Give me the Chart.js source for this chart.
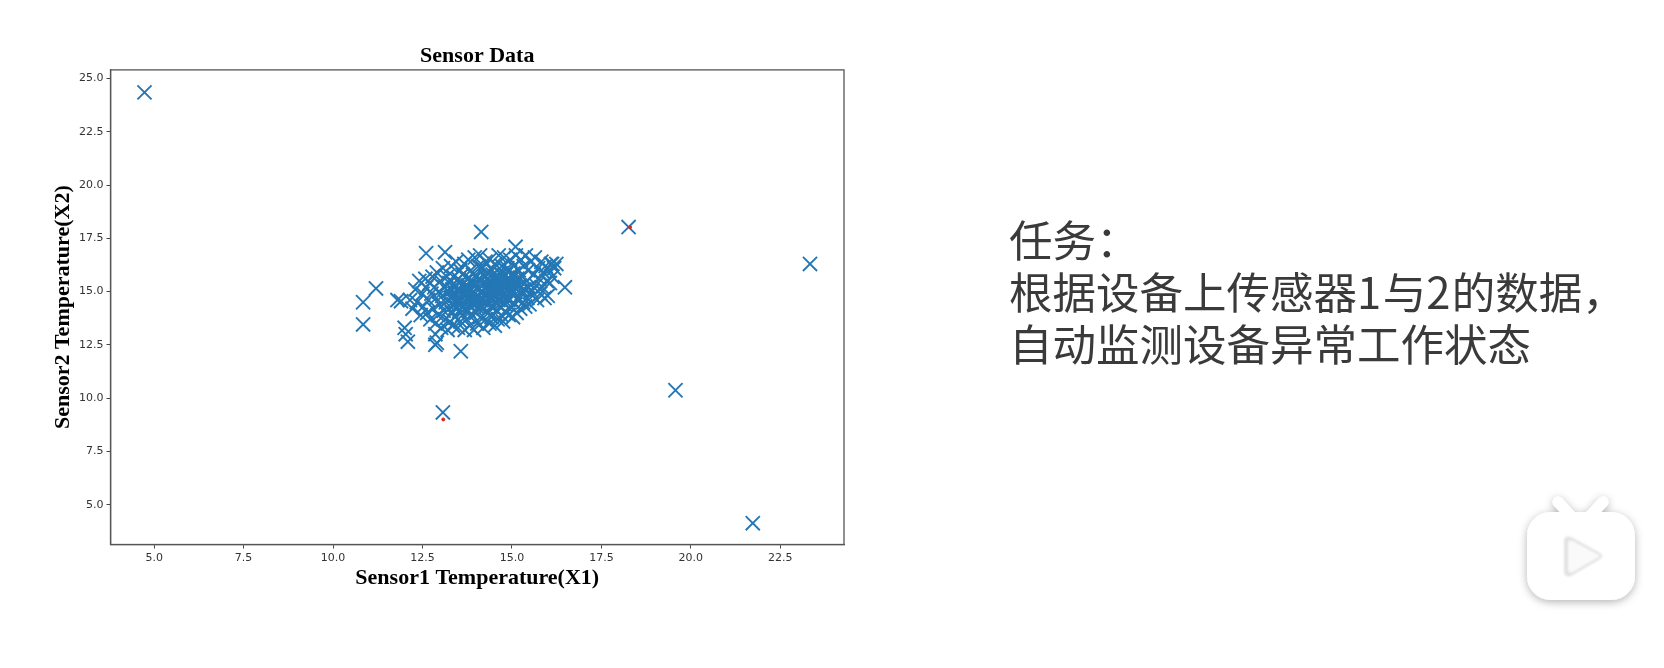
<!DOCTYPE html>
<html>
<head>
<meta charset="utf-8">
<script src="https://cdn.jsdelivr.net/npm/chart.js@4"></script>
<style>
    body { margin: 0; background: #fff; width: 1664px; height: 668px; overflow: hidden; position: relative; }
    canvas { position: absolute; left: 0; top: 0; }
    .task { position: absolute; left: 1009px; top: 213px; font: 400 43.5px/52px "Noto Sans CJK SC"; color: #3a3a3a; white-space: nowrap; }
    .task span { letter-spacing: 1.5px; }
    .logo { position: absolute; left: 0; top: 0; }
</style>
</head>
<body>
<canvas id="myChart" width="1664" height="668"></canvas>
<div class="task">任务：<br>根据设备上传感器<span>1</span>与<span>2</span>的数据，<br>自动监测设备异常工作状态</div>
<svg class="logo" width="1664" height="668">
    <defs>
        <filter id="shade" x="-30%" y="-30%" width="160%" height="160%">
            <feDropShadow dx="0" dy="2" stdDeviation="4" flood-color="#000" flood-opacity="0.3"/>
        </filter>
        <filter id="soft"><feGaussianBlur stdDeviation="1.2"/></filter>
    </defs>
    <g filter="url(#shade)" fill="#fff">
        <path d="M1558 502 L1571 516 M1603 502 L1590 516" stroke="#fff" stroke-width="11" stroke-linecap="round"/>
        <rect x="1527" y="512" width="108" height="88" rx="24"/>
    </g>
    <path d="M1571 537 L1600 553 Q1604 556 1600 559 L1571 576 Q1564 578 1564 571 L1564 542 Q1564 535 1571 537 Z" fill="#e2e2e2" filter="url(#soft)"/>
    <path d="M1573 541 L1599 555 Q1601 556 1599 557 L1573 572 Q1568 574 1568 569 L1568 544 Q1568 539 1573 541 Z" fill="#fafafa" filter="url(#soft)"/>
</svg>
<script>
const xTicks = [5, 7.5, 10, 12.5, 15, 17.5, 20, 22.5];
const yTicks = [5, 7.5, 10, 12.5, 15, 17.5, 20, 22.5, 25];

const redX = [18.3, 13.08];
const redY = [18.02, 9.0];

const outlierX = [4.73, 18.26, 23.33, 19.57, 21.73, 13.07, 10.84, 10.84, 11.2, 11.8, 11.9, 12.0, 12.03, 12.09, 12.86, 12.9, 12.86, 13.57, 12.6, 13.13, 14.14, 15.1, 16.48, 16.12];
const outlierY = [24.35, 18.03, 16.3, 10.37, 4.13, 9.33, 14.5, 13.46, 15.15, 14.6, 14.55, 13.3, 13.0, 12.65, 12.5, 12.6, 13.0, 12.2, 16.8, 16.85, 17.8, 17.1, 15.2, 16.3];

// the dense cloud, read column by column from left to right
const cloudX = [
    12.15, 12.22, 12.3, 12.34, 12.41, 12.45, 12.5, 12.52, 12.58, 12.6, 12.63, 12.66, 12.7, 12.72, 12.75, 12.78,
    12.8, 12.83, 12.86, 12.88, 12.9, 12.93, 12.96, 12.98, 13.0, 13.02, 13.05, 13.07, 13.09, 13.11, 13.13, 13.15, 13.18, 13.2, 13.22, 13.24,
    13.25, 13.27, 13.28, 13.3, 13.32, 13.33, 13.35, 13.36, 13.38, 13.4, 13.41, 13.43, 13.44, 13.46, 13.47, 13.49, 13.5, 13.52, 13.53, 13.55, 13.56, 13.58, 13.59, 13.61, 13.62, 13.64, 13.65, 13.67, 13.68, 13.7,
    13.72, 13.73, 13.75, 13.76, 13.78, 13.79, 13.81, 13.82, 13.84, 13.85, 13.87, 13.88, 13.9, 13.91, 13.93, 13.94, 13.96, 13.97, 13.99, 14.0, 14.02, 14.03, 14.05, 14.06, 14.08, 14.09, 14.11, 14.12, 14.14, 14.15, 14.17, 14.18, 14.2, 14.21, 14.23, 14.24, 14.26, 14.27, 14.29, 14.3,
    14.32, 14.34, 14.35, 14.37, 14.38, 14.4, 14.42, 14.43, 14.45, 14.47, 14.48, 14.5, 14.52, 14.53, 14.55, 14.57, 14.58, 14.6, 14.62, 14.63, 14.65, 14.67, 14.68, 14.7, 14.72, 14.73, 14.75, 14.77, 14.78, 14.8, 14.82, 14.84, 14.85, 14.87, 14.89,
    14.91, 14.93, 14.95, 14.97, 14.99, 15.01, 15.03, 15.05, 15.07, 15.09, 15.11, 15.13, 15.15, 15.17, 15.19, 15.21, 15.23, 15.25, 15.27, 15.29, 15.31, 15.33, 15.35, 15.37, 15.39, 15.41, 15.43, 15.45, 15.47, 15.49,
    15.52, 15.55, 15.58, 15.61, 15.64, 15.67, 15.7, 15.73, 15.76, 15.79, 15.82, 15.85, 15.88, 15.91, 15.94, 15.97, 16.0, 16.03, 16.06, 16.09, 16.13, 16.18, 16.24
];
const cloudY = [
    14.6, 14.2, 15.1, 14.5, 15.5, 13.9, 14.9, 14.3, 15.6, 15.2, 14.0, 14.6, 15.4, 13.7, 14.9, 15.7,
    14.2, 15.2, 13.5, 14.7, 15.9, 13.9, 15.0, 14.4, 15.5, 13.3, 14.8, 16.1, 14.1, 15.2, 13.7, 14.5, 15.7, 13.2, 15.0, 14.2,
    15.4, 13.6, 14.7, 16.2, 14.0, 15.1, 13.4, 15.7, 14.4, 14.9, 13.8, 15.3, 16.4, 14.2, 14.7, 13.3, 15.6, 15.0, 14.1, 16.0, 13.6, 14.6, 15.3, 13.9, 15.8, 14.3, 14.9, 16.3, 13.2, 15.2,
    14.5, 13.7, 15.6, 14.9, 16.5, 14.1, 15.2, 13.4, 14.7, 16.0, 15.4, 13.9, 14.4, 15.8, 15.0, 13.2, 16.6, 14.6, 15.3, 14.0, 15.7, 13.5, 14.8, 16.2, 15.1, 14.3, 16.7, 13.8, 15.5, 14.6, 15.0, 16.1, 13.3, 14.2, 15.7, 14.8, 16.4, 13.7, 15.2, 14.5,
    15.9, 14.0, 15.3, 13.5, 16.5, 14.7, 15.1, 13.8, 16.0, 14.3, 15.6, 14.9, 13.4, 16.3, 15.2, 14.1, 15.7, 13.7, 14.6, 16.7, 15.0, 14.3, 15.5, 13.9, 16.2, 14.8, 13.6, 15.3, 16.6, 14.4, 15.8, 14.0, 15.1, 16.1, 14.6,
    13.9, 15.4, 16.5, 14.3, 15.8, 14.9, 13.8, 16.2, 15.2, 14.4, 16.7, 14.0, 15.6, 14.7, 16.0, 15.3, 14.2, 16.5, 14.9, 15.7, 14.5, 16.2, 15.1, 14.3, 16.7, 15.5, 14.7, 16.0, 15.2, 14.4,
    16.4, 15.0, 14.8, 15.8, 16.6, 15.3, 14.6, 16.1, 15.6, 14.9, 16.4, 15.2, 15.9, 14.7, 16.2, 15.5, 14.8, 16.0, 15.4, 16.3, 15.7, 16.1, 16.3
];

// extra marks where the middle of the cloud reads as solid blue
const coreX = [
    13.31, 13.37, 13.42, 13.48, 13.51, 13.57, 13.63, 13.66, 13.71, 13.74, 13.77, 13.83, 13.86, 13.89, 13.92, 13.95, 13.98, 14.01, 14.04, 14.07, 14.1, 14.13, 14.16, 14.19, 14.22, 14.25, 14.28, 14.31, 14.33, 14.36, 14.39, 14.41, 14.44, 14.46, 14.49, 14.51, 14.54, 14.56, 14.59, 14.61, 14.64, 14.66, 14.69, 14.71, 14.74, 14.76, 14.79, 14.81, 14.83, 14.86, 14.88, 14.92, 14.96, 15.0, 15.04, 15.08, 15.12, 15.16, 15.22, 15.28
];
const coreY = [
    14.75, 15.35, 14.25, 15.05, 14.55, 15.45, 14.85, 14.15, 15.25, 14.65, 15.05, 14.35, 15.55, 14.95, 14.45, 15.35, 14.75, 15.15, 14.25, 15.6, 14.6, 15.0, 14.35, 15.4, 14.85, 15.75, 14.5, 15.2, 14.7, 15.5, 14.95, 14.3, 15.3, 15.8, 14.6, 15.1, 14.85, 15.55, 14.45, 15.25, 15.9, 14.7, 15.4, 15.05, 14.55, 15.75, 15.15, 14.8, 15.5, 15.95, 15.3, 14.65, 15.55, 15.05, 15.85, 14.85, 15.4, 14.6, 15.65, 15.05
];

const outsideBox = {
    id: 'outsideBox',
    afterDraw (chart) {
        const { ctx, chartArea } = chart;
        ctx.save();
        ctx.strokeStyle = '#555';
        ctx.lineWidth = 1.3;
        ctx.strokeRect(chartArea.left, chartArea.top, chartArea.width, chartArea.height);
        ctx.restore();
    }
};

function toPoints (xs, ys) {
    return xs.map((x, i) => ({ x: x, y: ys[i] }));
}

const tickFont = { family: 'DejaVu Sans', size: 11 };
const labelFont = { family: 'Liberation Serif', size: 22, weight: 'bold' };

const config = {
    type: 'scatter',
    data: {
        datasets: [{
            data: toPoints(redX, redY),
            pointStyle: 'circle',
            pointRadius: 1.5,
            backgroundColor: '#d62728',
            borderColor: '#d62728'
        }, {
            data: toPoints(outlierX.concat(cloudX, coreX), outlierY.concat(cloudY, coreY)),
            pointStyle: 'crossRot',
            pointRadius: 10,
            borderWidth: 1.9,
            borderColor: '#2477b5',
            backgroundColor: '#2477b5'
        }]
    },
    options: {
        responsive: false,
        animation: false,
        layout: { padding: { left: 0, top: 0, right: 820, bottom: 0 } },
        plugins: {
            legend: { display: false },
            tooltip: { enabled: false },
            title: {
                display: true,
                text: 'Sensor Data',
                color: '#000',
                fullSize: false,
                font: { family: 'Liberation Serif', size: 22, weight: 'bold', lineHeight: 1.2 },
                padding: { top: 43.5, bottom: 0 }
            }
        },
        scales: {
            x: {
                type: 'linear',
                min: 3.78,
                max: 24.28,
                afterFit: scale => { scale.height = 123.5; },
                afterBuildTicks: scale => { scale.ticks = xTicks.map(v => ({ value: v })); },
                grid: { drawOnChartArea: false, tickLength: 4, tickColor: '#444' },
                border: { color: '#555', width: 1.3 },
                ticks: { color: '#333', font: tickFont, padding: 3, maxRotation: 0, callback: v => v.toFixed(1) },
                title: { display: true, text: 'Sensor1 Temperature(X1)', color: '#000', font: labelFont, padding: { top: 0, bottom: 76 } }
            },
            y: {
                type: 'linear',
                min: 3.13,
                max: 25.405,
                afterFit: scale => { scale.width = 110.5; },
                afterBuildTicks: scale => { scale.ticks = yTicks.map(v => ({ value: v })); },
                grid: { drawOnChartArea: false, tickLength: 4, tickColor: '#444' },
                border: { color: '#555', width: 1.3 },
                ticks: { color: '#333', font: tickFont, padding: 3, callback: v => v.toFixed(1) },
                title: { display: true, text: 'Sensor2 Temperature(X2)', color: '#000', font: labelFont, padding: { top: 50, bottom: 0 } }
            }
        }
    },
    plugins: [outsideBox]
};

new Chart(document.getElementById('myChart'), config);
</script>
</body>
</html>
